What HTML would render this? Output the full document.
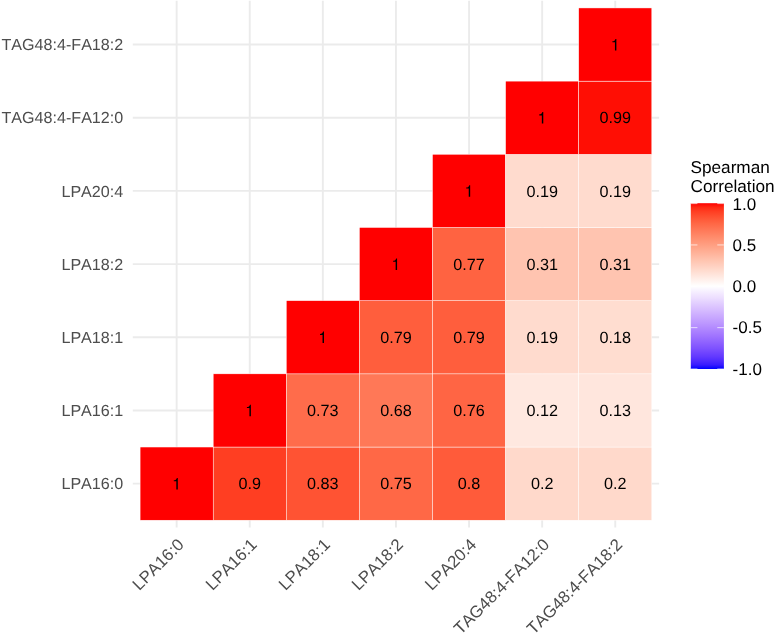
<!DOCTYPE html>
<html><head><meta charset="utf-8"><title>Spearman Correlation Heatmap</title>
<style>html,body{margin:0;padding:0;background:#fff;}body{width:775px;height:634px;overflow:hidden;}svg{display:block;will-change:transform;}text{font-family:"Liberation Sans",sans-serif;font-kerning:none;text-rendering:geometricPrecision;}</style></head><body>
<svg width="775" height="634" viewBox="0 0 775 634">
<rect x="0" y="0" width="775" height="634" fill="#FFFFFF"/>
<g stroke="#EBEBEB" stroke-width="1.9" fill="none">
<line x1="176.65" y1="0.63" x2="176.65" y2="527.53"/>
<line x1="249.75" y1="0.63" x2="249.75" y2="527.53"/>
<line x1="322.85" y1="0.63" x2="322.85" y2="527.53"/>
<line x1="395.95" y1="0.63" x2="395.95" y2="527.53"/>
<line x1="469.05" y1="0.63" x2="469.05" y2="527.53"/>
<line x1="542.15" y1="0.63" x2="542.15" y2="527.53"/>
<line x1="615.25" y1="0.63" x2="615.25" y2="527.53"/>
<line x1="132.79" y1="44.54" x2="659.11" y2="44.54"/>
<line x1="132.79" y1="117.72" x2="659.11" y2="117.72"/>
<line x1="132.79" y1="190.90" x2="659.11" y2="190.90"/>
<line x1="132.79" y1="264.08" x2="659.11" y2="264.08"/>
<line x1="132.79" y1="337.26" x2="659.11" y2="337.26"/>
<line x1="132.79" y1="410.44" x2="659.11" y2="410.44"/>
<line x1="132.79" y1="483.62" x2="659.11" y2="483.62"/>
</g>
<g stroke="#FFFFFF" stroke-width="0.45">
<rect x="140.10" y="447.03" width="73.10" height="73.18" fill="#FF0000"/>
<rect x="213.20" y="447.03" width="73.10" height="73.18" fill="#FF3E22"/>
<rect x="286.30" y="447.03" width="73.10" height="73.18" fill="#FF5333"/>
<rect x="359.40" y="447.03" width="73.10" height="73.18" fill="#FF6846"/>
<rect x="432.50" y="447.03" width="73.10" height="73.18" fill="#FF5B3A"/>
<rect x="505.60" y="447.03" width="73.10" height="73.18" fill="#FFD9CB"/>
<rect x="578.70" y="447.03" width="73.10" height="73.18" fill="#FFD9CB"/>
<rect x="213.20" y="373.85" width="73.10" height="73.18" fill="#FF0000"/>
<rect x="286.30" y="373.85" width="73.10" height="73.18" fill="#FF6C4B"/>
<rect x="359.40" y="373.85" width="73.10" height="73.18" fill="#FF7857"/>
<rect x="432.50" y="373.85" width="73.10" height="73.18" fill="#FF6544"/>
<rect x="505.60" y="373.85" width="73.10" height="73.18" fill="#FFE8E0"/>
<rect x="578.70" y="373.85" width="73.10" height="73.18" fill="#FFE6DD"/>
<rect x="286.30" y="300.67" width="73.10" height="73.18" fill="#FF0000"/>
<rect x="359.40" y="300.67" width="73.10" height="73.18" fill="#FF5E3D"/>
<rect x="432.50" y="300.67" width="73.10" height="73.18" fill="#FF5E3D"/>
<rect x="505.60" y="300.67" width="73.10" height="73.18" fill="#FFDBCE"/>
<rect x="578.70" y="300.67" width="73.10" height="73.18" fill="#FFDDD0"/>
<rect x="359.40" y="227.49" width="73.10" height="73.18" fill="#FF0000"/>
<rect x="432.50" y="227.49" width="73.10" height="73.18" fill="#FF6341"/>
<rect x="505.60" y="227.49" width="73.10" height="73.18" fill="#FFC4B0"/>
<rect x="578.70" y="227.49" width="73.10" height="73.18" fill="#FFC4B0"/>
<rect x="432.50" y="154.31" width="73.10" height="73.18" fill="#FF0000"/>
<rect x="505.60" y="154.31" width="73.10" height="73.18" fill="#FFDBCE"/>
<rect x="578.70" y="154.31" width="73.10" height="73.18" fill="#FFDBCE"/>
<rect x="505.60" y="81.13" width="73.10" height="73.18" fill="#FF0000"/>
<rect x="578.70" y="81.13" width="73.10" height="73.18" fill="#FF0E04"/>
<rect x="578.70" y="7.95" width="73.10" height="73.18" fill="#FF0000"/>
</g>
<g font-size="16.20" fill="#000000" text-anchor="middle">
<path transform="translate(172.15,489.47) scale(0.01620,-0.01620)" d="M259 0L259 505L102 505L102 568C207 570 268 612 292 709L347 709L347 0Z"/>
<text x="249.75" y="489.37">0.9</text>
<text x="322.85" y="489.37">0.83</text>
<text x="395.95" y="489.37">0.75</text>
<text x="469.05" y="489.37">0.8</text>
<text x="542.15" y="489.37">0.2</text>
<text x="615.25" y="489.37">0.2</text>
<path transform="translate(245.25,416.29) scale(0.01620,-0.01620)" d="M259 0L259 505L102 505L102 568C207 570 268 612 292 709L347 709L347 0Z"/>
<text x="322.85" y="416.19">0.73</text>
<text x="395.95" y="416.19">0.68</text>
<text x="469.05" y="416.19">0.76</text>
<text x="542.15" y="416.19">0.12</text>
<text x="615.25" y="416.19">0.13</text>
<path transform="translate(318.35,343.11) scale(0.01620,-0.01620)" d="M259 0L259 505L102 505L102 568C207 570 268 612 292 709L347 709L347 0Z"/>
<text x="395.95" y="343.01">0.79</text>
<text x="469.05" y="343.01">0.79</text>
<text x="542.15" y="343.01">0.19</text>
<text x="615.25" y="343.01">0.18</text>
<path transform="translate(391.45,269.93) scale(0.01620,-0.01620)" d="M259 0L259 505L102 505L102 568C207 570 268 612 292 709L347 709L347 0Z"/>
<text x="469.05" y="269.83">0.77</text>
<text x="542.15" y="269.83">0.31</text>
<text x="615.25" y="269.83">0.31</text>
<path transform="translate(464.55,196.75) scale(0.01620,-0.01620)" d="M259 0L259 505L102 505L102 568C207 570 268 612 292 709L347 709L347 0Z"/>
<text x="542.15" y="196.65">0.19</text>
<text x="615.25" y="196.65">0.19</text>
<path transform="translate(537.65,123.57) scale(0.01620,-0.01620)" d="M259 0L259 505L102 505L102 568C207 570 268 612 292 709L347 709L347 0Z"/>
<text x="615.25" y="123.47">0.99</text>
<path transform="translate(610.75,50.39) scale(0.01620,-0.01620)" d="M259 0L259 505L102 505L102 568C207 570 268 612 292 709L347 709L347 0Z"/>
</g>
<g font-size="16.10" fill="#4D4D4D" text-anchor="end">
<text x="123.20" y="489.37">LPA16:0</text>
<text x="123.20" y="416.19">LPA16:1</text>
<text x="123.20" y="343.01">LPA18:1</text>
<text x="123.20" y="269.83">LPA18:2</text>
<text x="123.20" y="196.65">LPA20:4</text>
<text x="123.20" y="123.47">TAG48:4-FA12:0</text>
<text x="123.20" y="50.29">TAG48:4-FA18:2</text>
</g>
<g font-size="16.80" fill="#4D4D4D" text-anchor="end">
<text transform="translate(184.85,545.63) rotate(-45)" x="0" y="0">LPA16:0</text>
<text transform="translate(257.95,545.63) rotate(-45)" x="0" y="0">LPA16:1</text>
<text transform="translate(331.05,545.63) rotate(-45)" x="0" y="0">LPA18:1</text>
<text transform="translate(404.15,545.63) rotate(-45)" x="0" y="0">LPA18:2</text>
<text transform="translate(477.25,545.63) rotate(-45)" x="0" y="0">LPA20:4</text>
<text transform="translate(550.35,545.63) rotate(-45)" x="0" y="0">TAG48:4-FA12:0</text>
<text transform="translate(623.45,545.63) rotate(-45)" x="0" y="0">TAG48:4-FA18:2</text>
</g>
<defs><linearGradient id="cb" x1="0" y1="0" x2="0" y2="1">
<stop offset="0.0000" stop-color="#FF0000"/>
<stop offset="0.0250" stop-color="#FF2913"/>
<stop offset="0.0500" stop-color="#FF3E22"/>
<stop offset="0.0750" stop-color="#FF4D2E"/>
<stop offset="0.1000" stop-color="#FF5B3A"/>
<stop offset="0.1250" stop-color="#FF6846"/>
<stop offset="0.1500" stop-color="#FF7352"/>
<stop offset="0.1750" stop-color="#FF7E5E"/>
<stop offset="0.2000" stop-color="#FF8969"/>
<stop offset="0.2250" stop-color="#FF9475"/>
<stop offset="0.2500" stop-color="#FF9E81"/>
<stop offset="0.2750" stop-color="#FFA88D"/>
<stop offset="0.3000" stop-color="#FFB299"/>
<stop offset="0.3250" stop-color="#FFBCA6"/>
<stop offset="0.3500" stop-color="#FFC6B2"/>
<stop offset="0.3750" stop-color="#FFCFBF"/>
<stop offset="0.4000" stop-color="#FFD9CB"/>
<stop offset="0.4250" stop-color="#FFE2D8"/>
<stop offset="0.4500" stop-color="#FFECE5"/>
<stop offset="0.4750" stop-color="#FFF5F2"/>
<stop offset="0.5000" stop-color="#FFFFFF"/>
<stop offset="0.5250" stop-color="#F8F3FF"/>
<stop offset="0.5500" stop-color="#F2E7FF"/>
<stop offset="0.5750" stop-color="#EBDCFF"/>
<stop offset="0.6000" stop-color="#E3D0FF"/>
<stop offset="0.6250" stop-color="#DCC4FF"/>
<stop offset="0.6500" stop-color="#D4B9FF"/>
<stop offset="0.6750" stop-color="#CCADFF"/>
<stop offset="0.7000" stop-color="#C4A2FF"/>
<stop offset="0.7250" stop-color="#BC97FF"/>
<stop offset="0.7500" stop-color="#B38BFF"/>
<stop offset="0.7750" stop-color="#AA80FF"/>
<stop offset="0.8000" stop-color="#A074FF"/>
<stop offset="0.8250" stop-color="#9569FF"/>
<stop offset="0.8500" stop-color="#8A5DFF"/>
<stop offset="0.8750" stop-color="#7E52FF"/>
<stop offset="0.9000" stop-color="#7145FF"/>
<stop offset="0.9250" stop-color="#6239FF"/>
<stop offset="0.9500" stop-color="#502BFF"/>
<stop offset="0.9750" stop-color="#381BFF"/>
<stop offset="1.0000" stop-color="#0000FF"/>
</linearGradient></defs>
<rect x="690.80" y="203.20" width="33.10" height="165.80" fill="url(#cb)"/>
<g stroke="#FFFFFF" stroke-width="0.7">
<line x1="690.80" y1="203.60" x2="697.42" y2="203.60"/>
<line x1="717.28" y1="203.60" x2="723.90" y2="203.60"/>
<line x1="690.80" y1="244.95" x2="697.42" y2="244.95"/>
<line x1="717.28" y1="244.95" x2="723.90" y2="244.95"/>
<line x1="690.80" y1="286.30" x2="697.42" y2="286.30"/>
<line x1="717.28" y1="286.30" x2="723.90" y2="286.30"/>
<line x1="690.80" y1="327.65" x2="697.42" y2="327.65"/>
<line x1="717.28" y1="327.65" x2="723.90" y2="327.65"/>
<line x1="690.80" y1="369.00" x2="697.42" y2="369.00"/>
<line x1="717.28" y1="369.00" x2="723.90" y2="369.00"/>
</g>
<g font-size="17.20" fill="#000000">
<text x="690.50" y="173.00">Spearman</text>
<text x="690.50" y="192.00">Correlation</text>
</g>
<g font-size="17.00" fill="#000000">
<text x="732.60" y="210.00">1.0</text>
<text x="732.60" y="250.55">0.5</text>
<text x="732.60" y="291.90">0.0</text>
<text x="732.60" y="333.25">-0.5</text>
<text x="732.60" y="374.60">-1.0</text>
</g>
</svg></body></html>
